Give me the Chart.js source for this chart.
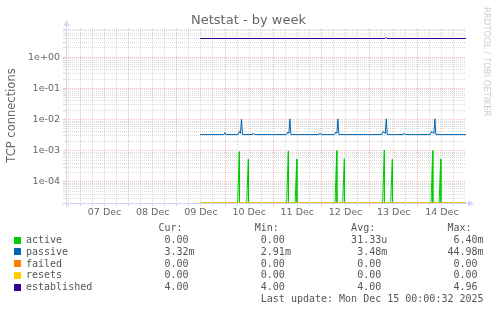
<!DOCTYPE html>
<html>
<head>
<meta charset="utf-8">
<script src="https://cdn.jsdelivr.net/npm/chart.js@4.4.1/dist/chart.umd.min.js"></script>
<style>
  html, body { margin: 0; padding: 0; background: #fff; }
  #graph { position: relative; width: 497px; height: 312px; background: #fff; overflow: hidden;
           font-family: "DejaVu Sans", sans-serif; color: #666; }
  #plot { position: absolute; left: 0; top: 0; width: 497px; height: 225px; }
  #title { position: absolute; left: 0; top: 12px; width: 497px; text-align: center;
           font-size: 13px; line-height: 16px; }
  #watermark { position: absolute; left: 482px; top: 7px; writing-mode: vertical-rl;
               font-size: 8.5px; line-height: 10px; color: #cfcfcf; white-space: nowrap; }
  .row { position: absolute; left: 26px; font-family: "DejaVu Sans Mono", monospace;
         font-size: 10px; line-height: 12px; height: 12px; white-space: pre; color: #555; }
  .swatch { position: absolute; left: 14px; width: 7px; height: 7px; }
</style>
</head>
<body>
<div id="graph">
  <div id="plot"><canvas id="chart"></canvas></div>
  <div id="title">Netstat - by week</div>
  <div id="watermark">RRDTOOL / TOBI OETIKER</div>
  <div id="legend"></div>
</div>
<script>
// axis ranges (hours counted from 07 Dec 00:00)
const X_MIN = -7.2;
const X_MAX = 192;
const Y_MIN = 2.1e-5;
const Y_MAX = 8.7;

const dayLabels = ["07 Dec", "08 Dec", "09 Dec", "10 Dec", "11 Dec", "12 Dec", "13 Dec", "14 Dec"];

// series (x in hours, y in connections)
const activeHours = [59.5, 78.3, 79.1, 79.2, 82.8, 83.6, 83.7, 102.7, 103.5, 103.6, 106.9, 107.7, 107.8,
  126.8, 127.6, 127.7, 130.6, 131.4, 131.5, 150.5, 151.3, 151.4, 154.5, 155.3, 155.4,
  174.6, 175.4, 175.5, 178.6, 179.4, 179.5, 192];
const activeValues = [0, 0, 9.3e-4, 0, 0, 5.4e-4, 0, 0, 9.7e-4, 0, 0, 5.4e-4, 0,
  0, 1.0e-3, 0, 0, 5.5e-4, 0, 0, 1.03e-3, 0, 0, 5.4e-4, 0,
  0, 1.0e-3, 0, 0, 5.4e-4, 0, 0];

const passiveHours = [59.5, 71.5, 72.0, 72.5, 78.5, 79.2, 79.7, 80.2, 80.7, 85.6, 86.1, 86.6,
  102.6, 103.3, 103.8, 104.3, 104.8, 118.8, 119.3, 119.8, 126.5, 127.2, 127.7, 128.2, 128.7,
  150.1, 150.8, 151.8, 152.3, 152.8, 160.8, 161.3, 161.8, 174.2, 174.9, 176.0, 176.5, 177.0, 192];
const passiveValues = [3.3e-3, 3.3e-3, 3.8e-3, 3.3e-3, 3.3e-3, 4.2e-3, 3.6e-3, 1.0e-2, 3.3e-3, 3.3e-3, 3.7e-3, 3.3e-3,
  3.3e-3, 4.0e-3, 3.6e-3, 1.05e-2, 3.3e-3, 3.3e-3, 3.7e-3, 3.3e-3, 3.3e-3, 4.0e-3, 3.6e-3, 1.05e-2, 3.3e-3,
  3.3e-3, 4.2e-3, 3.5e-3, 1.06e-2, 3.3e-3, 3.3e-3, 3.7e-3, 3.3e-3, 3.3e-3, 4.2e-3, 3.5e-3, 1.06e-2, 3.3e-3, 3.3e-3];

const failedHours = [59.5, 192];
const failedValues = [0, 0];
const resetsHours = [59.5, 192];
const resetsValues = [0, 0];

const establishedHours = [59.5, 151.6, 152.1, 152.6, 192];
const establishedValues = [4, 4, 4.35, 4, 4];

// legend table
const seriesNames = ["active", "passive", "failed", "resets", "established"];
const seriesColors = ["#00CC00", "#0066B3", "#FF8000", "#FFCC00", "#330099"];
const curText = ["0.00 ", "3.32m", "0.00 ", "0.00 ", "4.00 "];
const minText = ["0.00 ", "2.91m", "0.00 ", "0.00 ", "4.00 "];
const avgText = ["31.33u", "3.48m", "0.00 ", "0.00 ", "4.00 "];
const maxText = ["6.40m", "44.98m", "0.00 ", "0.00 ", "4.96 "];
const lastUpdate = "Last update: Mon Dec 15 00:00:32 2025";

const MAJOR_GRID = "rgba(230, 90, 90, 0.4)";
const MINOR_GRID = "rgba(150, 150, 150, 0.33)";
const AXIS_COLOR = "#CFD6F8";

// grid positions: every 6 hours on x, 1..9 per decade on y
const xGridHours = [];
for (let h = -6; h < X_MAX; h += 6) xGridHours.push(h);
const yGridValues = [];
for (let e = -5; e <= 0; e++) {
  for (let m = 1; m <= 9; m++) {
    const v = m * Math.pow(10, e);
    if (v >= Y_MIN && v <= Y_MAX) yGridValues.push(v);
  }
}

function isDecade(v) {
  const e = Math.log10(v);
  return Math.abs(e - Math.round(e)) < 1e-6;
}

function expLabel(v) {
  const e = Math.round(Math.log10(v));
  return "1e" + (e < 0 ? "-" : "+") + String(Math.abs(e)).padStart(2, "0");
}

// zero can't sit on a log axis; rrdtool draws it on the floor
function toPoints(hours, values) {
  return hours.map((h, i) => ({ x: h, y: values[i] > 0 ? values[i] : Y_MIN }));
}

const allHours = [activeHours, passiveHours, failedHours, resetsHours, establishedHours];
const allValues = [activeValues, passiveValues, failedValues, resetsValues, establishedValues];

// rrdtool draws in legend order, so the last series ends up on top
const datasets = seriesNames.map((name, i) => ({
  label: name,
  data: toPoints(allHours[i], allValues[i]),
  borderColor: seriesColors[i],
  backgroundColor: seriesColors[i],
  borderWidth: 1,
  pointRadius: 0,
  tension: 0,
  order: seriesNames.length - i,
}));

// light blue axis lines with arrow heads
const axisArrows = {
  id: "axisArrows",
  beforeDatasetsDraw(chart) {
    const { ctx, chartArea } = chart;
    const x0 = Math.round(chartArea.left) + 0.5;
    const y0 = Math.round(chartArea.bottom) + 0.5;
    ctx.save();
    ctx.strokeStyle = AXIS_COLOR;
    ctx.fillStyle = AXIS_COLOR;
    ctx.lineWidth = 1;
    ctx.beginPath();
    ctx.moveTo(x0, y0 + 4);
    ctx.lineTo(x0, chartArea.top - 4);
    ctx.moveTo(x0 - 4, y0);
    ctx.lineTo(chartArea.right + 4, y0);
    ctx.stroke();
    ctx.beginPath();
    ctx.moveTo(x0, chartArea.top - 8);
    ctx.lineTo(x0 - 3, chartArea.top - 2);
    ctx.lineTo(x0 + 3, chartArea.top - 2);
    ctx.closePath();
    ctx.fill();
    ctx.beginPath();
    ctx.moveTo(chartArea.right + 8, y0);
    ctx.lineTo(chartArea.right + 2, y0 - 3);
    ctx.lineTo(chartArea.right + 2, y0 + 3);
    ctx.closePath();
    ctx.fill();
    ctx.restore();
  },
};

new Chart(document.getElementById("chart"), {
  type: "line",
  data: { datasets },
  plugins: [axisArrows],
  options: {
    responsive: true,
    maintainAspectRatio: false,
    devicePixelRatio: 1,
    animation: false,
    layout: { padding: { top: 28, right: 31, left: 0, bottom: 0 } },
    plugins: {
      legend: { display: false },
      title: { display: false },
      tooltip: { enabled: false },
    },
    scales: {
      x: {
        type: "linear",
        min: X_MIN,
        max: X_MAX,
        afterBuildTicks: (s) => { s.ticks = xGridHours.map((h) => ({ value: h })); },
        afterFit: (s) => { s.height = 22; },
        grid: {
          color: (c) => (c.tick && c.tick.value % 24 === 0 ? MAJOR_GRID : MINOR_GRID),
          lineWidth: 1,
          tickLength: 3,
        },
        border: { display: false, dash: [1, 1] },
        ticks: {
          autoSkip: false,
          maxRotation: 0,
          padding: 1,
          color: "#666",
          font: { family: "DejaVu Sans", size: 9.5 },
          callback: (v) => {
            if ((v - 12) % 24 !== 0) return "";
            return dayLabels[(v - 12) / 24] || "";
          },
        },
      },
      y: {
        type: "logarithmic",
        min: Y_MIN,
        max: Y_MAX,
        afterBuildTicks: (s) => { s.ticks = yGridValues.map((v) => ({ value: v })); },
        afterFit: (s) => { s.width = 66; },
        grid: {
          color: (c) => (c.tick && isDecade(c.tick.value) ? MAJOR_GRID : MINOR_GRID),
          lineWidth: 1,
          tickLength: 3,
        },
        border: { display: false, dash: [1, 1] },
        ticks: {
          autoSkip: false,
          padding: 3,
          color: "#666",
          font: { family: "DejaVu Sans", size: 9.5 },
          callback: (v) => (isDecade(v) ? expLabel(v) : ""),
        },
        title: {
          display: true,
          text: "TCP connections",
          color: "#666",
          font: { family: "DejaVu Sans", size: 11.5 },
          padding: { top: 5, bottom: 0 },
        },
      },
    },
  },
});

// legend rows in monospace, columns 16 characters wide
const legend = document.getElementById("legend");
function addRow(text, centerY) {
  const d = document.createElement("div");
  d.className = "row";
  d.style.top = (centerY - 6) + "px";
  d.textContent = text;
  legend.appendChild(d);
}
const firstRowY = 228.4;
const rowStep = 11.75;
addRow(" ".repeat(12) + "Cur:".padStart(14) + "Min:".padStart(16) + "Avg:".padStart(16) + "Max:".padStart(16), firstRowY);
seriesNames.forEach((name, i) => {
  const y = firstRowY + rowStep * (i + 1);
  addRow(name.padEnd(12) + curText[i].padStart(16) + minText[i].padStart(16) +
         avgText[i].padStart(16) + maxText[i].padStart(16), y);
  const sw = document.createElement("div");
  sw.className = "swatch";
  sw.style.top = (y - 3.5) + "px";
  sw.style.background = seriesColors[i];
  legend.appendChild(sw);
});
addRow(lastUpdate.padStart(76), firstRowY + rowStep * 6);
</script>
</body>
</html>
